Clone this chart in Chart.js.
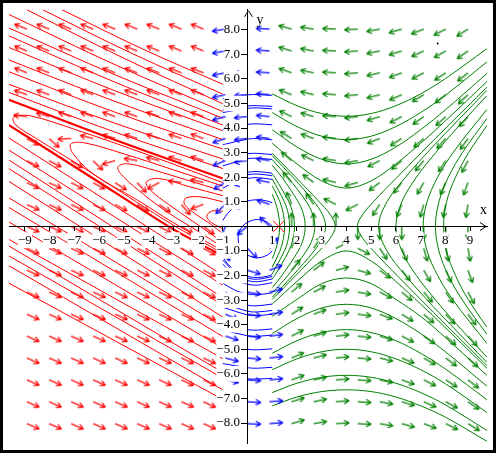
<!DOCTYPE html>
<html>
<head>
<meta charset="utf-8">
<script src="https://cdn.jsdelivr.net/npm/chart.js@4.4.1/dist/chart.umd.min.js"></script>
<style>
html,body{margin:0;padding:0;background:#fff;}
#wrap{width:496px;height:453px;position:relative;}
canvas{display:block;}
</style>
</head>
<body>
<div id="wrap"><canvas id="c" width="496" height="453"></canvas></div>
<script>
// ---------------- data ----------------
const xTicks = [-9,-8,-7,-6,-5,-4,-3,-2,-1,1,2,3,4,5,6,7,8,9];
const yTicks = [-8,-7,-6,-5,-4,-3,-2,-1,1,2,3,4,5,6,7,8];

// direction-field grid (arrow tails)
const gridX = [-8.92,-8.02,-7.13,-6.24,-5.35,-4.46,-3.57,-2.67,-1.78,-0.89,0,0.89,1.78,2.67,3.57,4.46,5.35,6.24,7.13,8.02,8.92];
const gridY = [8.02,7.13,6.24,5.35,4.46,3.57,2.67,1.78,0.89,0,-0.89,-1.78,-2.67,-3.57,-4.46,-5.35,-6.24,-7.13,-8.02];

// arrow directions, degrees counter-clockwise from +x (rows follow gridY)
const redAngles = [
[158,158,158,158,158,158,158,158,158],
[158,158,158,158,158,158,158,158,158],
[158,158,159,159,159,159,159,159,159],
[160,160,159,159,159,159,159,159,159],
[173,163,161,161,160,160,160,160,160],
[-28,-41,183,166,163,162,161,161,160],
[-26,-27,-31,-44,196,170,165,163,162],
[-25,-25,-27,-28,-33,-47,209,173,167],
[-24,-25,-25,-26,-28,-30,-34,-49,200],
[-24,-24,-25,-25,-26,-27,-28,-31,-36],
[-24,-24,-25,-25,-25,-26,-27,-28,-29],
[-24,-24,-24,-25,-25,-25,-26,-26,-27],
[-24,-24,-24,-24,-25,-25,-25,-26,-26],
[-24,-24,-24,-24,-24,-25,-25,-25,-26],
[-24,-24,-24,-24,-24,-24,-25,-25,-25],
[-24,-24,-24,-24,-24,-24,-24,-25,-25],
[-24,-24,-24,-24,-24,-24,-24,-25,-25],
[-24,-24,-24,-24,-24,-24,-24,-24,-25],
[-24,-24,-24,-24,-24,-24,-24,-24,-24]
];
const blueAngles = [
[189,183,177],[190,183,176],[191,183,176],[192,184,175],[195,185,174],
[198,186,173],[202,187,171],[210,190,168],[223,196,161],[249,219,136],
[-73,-46,52],[-45,-17,21],[-31,-10,13],[-23,-7,9],[-18,-6,7],[-15,-5,6],[-13,-4,5],[-11,-4,4],[-10,-3,4]
];
const greenAngles = [
[164,171,177,183,190,196,201,207,212],
[163,169,177,184,191,197,204,209,215],
[160,168,176,184,192,200,207,213,218],
[158,166,175,185,194,203,210,217,223],
[154,163,175,186,197,207,215,222,228],
[148,160,173,187,201,212,221,228,234],
[140,154,171,190,207,220,230,236,242],
[129,143,166,195,217,232,240,246,250],
[112,124,154,207,237,248,254,258,260],
[90,90,90,-90,-90,-90,-90,-90,-90],
[68,56,26,-27,-57,-68,-74,-78,-80],
[51,37,14,-15,-37,-52,-60,-66,-70],
[40,27,9,-10,-27,-40,-50,-56,-62],
[32,20,7,-7,-21,-32,-41,-48,-54],
[27,17,6,-6,-17,-27,-35,-42,-48],
[23,14,5,-5,-14,-23,-30,-37,-43],
[20,12,4,-4,-12,-20,-27,-33,-38],
[17,11,4,-4,-11,-17,-24,-29,-35],
[16,9,3,-3,-10,-16,-21,-27,-32]
];

// red solution curves (x <= -1)
const redUpperCurves = [
[[-7.5,8.81],[-4.25,7.22],[-1,5.78]],
[[-8.28,8.81],[-4.64,7.02],[-1,5.38]],
[[-8.92,8.81],[-4.96,6.82],[-1,4.99]],
[[-9.65,8.62],[-5.32,6.56],[-1,4.67]],
[[-9.65,8.07],[-5.32,6.15],[-1,4.40]],
[[-9.65,7.75],[-5.32,5.85],[-1,4.12]],
[[-9.65,7.28],[-5.32,5.50],[-1,3.89]],
[[-9.65,6.77],[-5.32,5.07],[-1,3.53]],
[[-9.65,6.29],[-5.32,4.63],[-1,3.14]],
[[-9.65,5.78],[-5.32,4.18],[-1,2.74]],
[[-9.65,5.45],[-5.32,3.82],[-1,2.35]]
];
const redSeparatrices = [
[[-9.65,5.15],[-5.32,3.50],[-1,1.95]],
[[-9.65,4.12],[-6.4,2.05],[-3.2,0],[-2.1,-0.62],[-1,-1.2]]
];
const redLowerCurves = [
[[-9.65,3.6],[-1,-1.99]],
[[-9.65,3.1],[-1,-2.39]],
[[-9.65,2.7],[-1,-2.9]],
[[-9.65,2.35],[-1,-3.21]],
[[-9.65,1.83],[-1,-3.69]],
[[-9.65,1.16],[-1,-4.08]],
[[-9.65,0.77],[-1,-4.48]],
[[-9.65,0.18],[-1,-4.95]],
[[-9.65,-0.53],[-1,-5.38]],
[[-9.65,-0.8],[-1,-5.94]],
[[-9.65,-1.2],[-1,-6.17]],
[[-9.65,-1.6],[-1,-6.65]],
[[-9.65,-2.31],[-1,-7.04]]
];
const redLoops = [
[[-1,1.78],[-4,2.9],[-7,3.95],[-8.8,4.5],[-9.45,4.45],[-9.4,4.15],[-8.5,3.55],[-6.5,2.3],[-4.5,1.0],[-3,0.05],[-1,-1.1]],
[[-1,1.64],[-3,2.3],[-5,2.95],[-6.6,3.4],[-7.15,3.35],[-7.05,2.95],[-6.2,2.1],[-4.5,1.1],[-3,0.15],[-1,-1.0]],
[[-1,1.44],[-2.5,1.9],[-4,2.35],[-4.9,2.55],[-5.25,2.4],[-5.0,2.0],[-4.2,1.3],[-3.2,0.55],[-2,-0.2],[-1,-0.85]],
[[-1,1.25],[-2.3,1.6],[-3.6,1.95],[-4.1,1.8],[-3.9,1.45],[-3.2,0.9],[-2.2,0.2],[-1,-0.65]],
[[-1,1.0],[-1.9,1.2],[-2.5,1.15],[-2.55,0.9],[-2.1,0.5],[-1.5,0.1],[-1,-0.3]],
[[-1,0.62],[-1.45,0.62],[-1.65,0.4],[-1.45,0.15],[-1,-0.1]]
];

// blue solution curves (-1 <= x <= 1), arcs turning about (0.4, -0.5)
const blueCurves = [
[[-1,5.19],[0,5.35],[0.4,5.36],[1,5.33]],
[[-1,4.73],[0,4.9],[0.4,4.91],[1,4.88]],
[[-1,4.63],[0,4.8],[0.4,4.82],[1,4.78]],
[[-1,3.95],[0,4.15],[0.4,4.17],[1,4.13]],
[[-1,3.32],[0,3.55],[0.4,3.57],[1,3.52]],
[[-1,2.68],[0,2.95],[0.4,2.97],[1,2.92]],
[[-1,2.46],[0,2.75],[0.4,2.77],[1,2.72]],
[[-1,1.84],[-0.5,2.08],[0,2.2],[0.4,2.23],[1,2.16]],
[[-1,1.73],[-0.5,1.97],[0,2.1],[0.4,2.13],[1,2.06]],
[[-1,1.55],[-0.5,1.81],[0,1.95],[0.4,1.98],[1,1.91]],
[[-1,0.24],[-0.8,0.53],[-0.5,0.8],[0,1.03],[0.4,1.08],[0.8,1.03],[1,0.96]],
[[-1,-1.24],[-0.8,-1.53],[-0.5,-1.8],[0,-2.03],[0.4,-2.08],[0.8,-2.03],[1,-1.96]],
[[1,0.0],[0.8,0.17],[0.4,0.28],[0,0.17],[-0.2,0.0],[-0.33,-0.22],[-0.38,-0.5],[-0.33,-0.78],[-0.2,-1.0],[0,-1.17],[0.4,-1.28],[0.8,-1.17],[1,-1.0]],
[[-1,-1.37],[-0.5,-1.88],[0,-2.1],[0.4,-2.15],[1,-2.04]],
[[-1,-1.54],[-0.5,-2.0],[0,-2.2],[0.4,-2.25],[1,-2.14]],
[[-1,-1.77],[-0.5,-2.16],[0,-2.35],[0.4,-2.39],[1,-2.29]],
[[-1,-2.31],[-0.5,-2.6],[0,-2.75],[0.4,-2.78],[1,-2.7]],
[[-1,-2.84],[0,-3.2],[0.4,-3.23],[1,-3.16]],
[[-1,-3.13],[0,-3.45],[0.4,-3.48],[1,-3.42]],
[[-1,-3.29],[0,-3.6],[0.4,-3.63],[1,-3.57]],
[[-1,-3.95],[0,-4.2],[0.4,-4.22],[1,-4.17]],
[[-1,-4.21],[0,-4.45],[0.4,-4.47],[1,-4.42]],
[[-1,-4.8],[0,-5.0],[0.4,-5.02],[1,-4.98]],
[[-1,-5.58],[0,-5.75],[0.4,-5.77],[1,-5.73]],
[[-1,-6.04],[0,-6.2],[0.4,-6.21],[1,-6.18]]
];

// green solution curves (x >= 1)
const greenUpperCurves = [
[[1,5.39],[2,4.91],[3,4.59],[4,4.48],[5,4.59],[6,4.91],[7,5.39],[8,6.01],[9.68,7.23]],
[[1,4.63],[2,4.06],[3,3.67],[4,3.53],[5,3.67],[6,4.06],[7,4.63],[8,5.33],[9.68,6.69]],
[[1,3.93],[2,3.23],[3,2.73],[4,2.54],[5,2.73],[6,3.23],[7,3.93],[8,4.74],[9.68,6.22]],
[[1,3.38],[2,2.54],[3,1.85],[4,1.56],[5,1.85],[6,2.54],[7,3.38],[8,4.29],[9.68,5.89]]
];
const greenLowerCurves = [
[[1,-3.16],[2,-2.24],[3,-1.41],[4,-1],[5,-1.41],[6,-2.24],[7,-3.16],[8,-4.12],[9.68,-5.77]],
[[1,-3.66],[2,-2.97],[3,-2.33],[4,-2.1],[5,-2.33],[6,-2.97],[7,-3.66],[8,-4.52],[9.68,-6.06]],
[[1,-4.36],[2,-3.75],[3,-3.32],[4,-3.17],[5,-3.32],[6,-3.75],[7,-4.36],[8,-5.1],[9.68,-6.5]],
[[1,-5.16],[2,-4.65],[3,-4.32],[4,-4.2],[5,-4.32],[6,-4.65],[7,-5.16],[8,-5.8],[9.68,-7.05]],
[[1,-5.83],[2,-5.39],[3,-5.1],[4,-5],[5,-5.1],[6,-5.39],[7,-5.83],[8,-6.4],[9.68,-7.57]],
[[1,-6.76],[2,-6.38],[3,-6.14],[4,-6.06],[5,-6.14],[6,-6.38],[7,-6.76],[8,-7.26],[9.68,-8.3]],
[[1,-7.3],[2,-6.94],[3,-6.72],[4,-6.65],[5,-6.72],[6,-6.94],[7,-7.3],[8,-7.76],[9.68,-8.74]]
];
const greenLeftCurves = [
[[1,1.31],[1.12,1],[1.25,0.5],[1.3,0],[1.25,-0.5],[1.12,-1],[1,-1.31]],
[[1,1.66],[1.31,1],[1.45,0.5],[1.5,0],[1.45,-0.5],[1.31,-1],[1,-1.66]],
[[1,1.93],[1.49,1],[1.65,0.5],[1.7,0],[1.65,-0.5],[1.49,-1],[1,-1.93]],
[[1,2.14],[1.1,2],[1.67,1],[1.84,0.5],[1.9,0],[1.84,-0.5],[1.67,-1],[1.1,-2],[1,-2.14]],
[[1,2.49],[1.39,2],[2.05,1],[2.26,0.5],[2.33,0],[2.26,-0.5],[2.05,-1],[1.39,-2],[1,-2.49]],
[[1,2.71],[1.63,2],[2.38,1],[2.63,0.5],[2.72,0],[2.63,-0.5],[2.38,-1],[1.63,-2],[1,-2.71]],
[[1,2.88],[1.83,2],[2.69,1],[3.02,0.5],[3.16,0],[3.02,-0.5],[2.69,-1],[1.83,-2],[1,-2.88]],
[[1,2.97],[1.95,2],[2.9,1],[3.33,0.5],[3.55,0],[3.33,-0.5],[2.9,-1],[1.95,-2],[1,-2.97]]
];
const greenRightCurves = [
[[9.68,5.66],[8.02,4],[7.03,3],[6.05,2],[5.09,1],[4.67,0.5],[4.44,0],[4.67,-0.5],[5.09,-1],[6.05,-2],[7.03,-3],[8.02,-4],[9.68,-5.66]],
[[9.68,5.53],[8.21,4],[7.27,3],[6.39,2],[5.64,1],[5.3,0],[5.64,-1],[6.39,-2],[7.27,-3],[8.21,-4],[9.68,-5.53]],
[[9.68,5.32],[8.47,4],[7.61,3],[6.83,2],[6.24,1],[6.0,0],[6.24,-1],[6.83,-2],[7.61,-3],[8.47,-4],[9.68,-5.32]],
[[9.68,4.76],[8.31,3],[7.69,2],[7.26,1],[7.1,0],[7.26,-1],[7.69,-2],[8.31,-3],[9.68,-4.76]],
[[9.68,4.39],[8.69,3],[8.12,2],[7.74,1],[7.6,0],[7.74,-1],[8.12,-2],[8.69,-3],[9.68,-4.39]],
[[9.68,4.1],[8.94,3],[8.41,2],[8.05,1],[7.93,0],[8.05,-1],[8.41,-2],[8.94,-3],[9.68,-4.1]]
];
const markerX = [[1.26,0]];
const markerDot = [[7.69,7.44]];

// ---------------- rendering ----------------
const RED = '#ff0000', BLUE = '#0000ff', GREEN = '#008000';
Chart.defaults.font.family = "'Liberation Serif','Times New Roman',serif";

function arrowImage(color){
  const c = document.createElement('canvas');
  c.width = 34; c.height = 34;
  const g = c.getContext('2d');
  g.strokeStyle = color; g.lineWidth = 1.25;
  g.beginPath();
  g.moveTo(17,17); g.lineTo(30.5,17);
  g.moveTo(30.5,17); g.lineTo(25.3,14.3);
  g.moveTo(30.5,17); g.lineTo(25.3,19.7);
  g.stroke();
  return c;
}
function arrowSet(cols, angles, color){
  const data = [], rot = [];
  gridY.forEach((y,j)=>cols.forEach((x,i)=>{
    const a = angles[j][i];
    if (a === null) return;
    data.push({x:x, y:y}); rot.push(-a);
  }));
  return {data, pointStyle: arrowImage(color), pointRotation: rot, pointRadius: 6, showLine:false, order: 1};
}
function curveSets(list, color, width){
  return list.map(pts => ({
    data: pts.map(p => ({x:p[0], y:p[1]})),
    showLine: true, borderColor: color, borderWidth: width || 1,
    pointRadius: 0, tension: 0.35, fill: false, order: 2
  }));
}
const datasets = [].concat(
  curveSets(redUpperCurves, RED),
  curveSets(redSeparatrices, RED, 2.2),
  curveSets(redLowerCurves, RED),
  curveSets(redLoops, RED),
  curveSets(blueCurves, BLUE),
  curveSets(greenUpperCurves, GREEN),
  curveSets(greenLowerCurves, GREEN),
  curveSets(greenLeftCurves, GREEN),
  curveSets(greenRightCurves, GREEN),
  [arrowSet(gridX.slice(0,9), redAngles, RED),
   arrowSet(gridX.slice(9,12), blueAngles, BLUE),
   arrowSet(gridX.slice(12), greenAngles, GREEN),
   {data: markerX.map(p=>({x:p[0],y:p[1]})), pointStyle:'crossRot', pointRadius:8, borderColor:RED, borderWidth:1, showLine:false, order:0},
   {data: markerDot.map(p=>({x:p[0],y:p[1]})), pointStyle:'circle', pointRadius:1, backgroundColor:'#000', borderColor:'#000', borderWidth:0, showLine:false, order:0}]
);

const frame = {
  id: 'frame',
  afterDraw(chart){
    const ctx = chart.ctx, xs = chart.scales.x, ys = chart.scales.y;
    const x0 = Math.round(xs.getPixelForValue(0)) + 0.5, y0 = Math.round(ys.getPixelForValue(0)) + 0.5;
    const a = chart.chartArea;
    ctx.save();
    ctx.strokeStyle = '#000'; ctx.lineWidth = 1;
    ctx.beginPath();
    ctx.moveTo(a.right-7, y0-4); ctx.lineTo(a.right-1, y0); ctx.lineTo(a.right-7, y0+4);
    ctx.moveTo(x0-4, a.top+7); ctx.lineTo(x0, a.top+1); ctx.lineTo(x0+4, a.top+7);
    ctx.stroke();
    ctx.fillStyle = '#000';
    ctx.font = "14px 'Liberation Serif'";
    ctx.textAlign = 'left'; ctx.textBaseline = 'alphabetic';
    ctx.fillText('x', a.right-7, y0-13);
    ctx.fillText('y', x0+8, a.top+14);
    ctx.fillRect(0,0,496,3); ctx.fillRect(0,0,3,453);
    ctx.fillRect(493,0,3,453); ctx.fillRect(0,450,496,3);
    ctx.restore();
  }
};
const fmtX = v => (v < 0 ? '\u2212' : '') + Math.abs(v);
// trailing en + hair space keep the centred-axis labels clear of the tick marks
const fmtY = v => (v < 0 ? '\u2212' : '') + Math.abs(v).toFixed(1) + '\u2002\u200a';

new Chart(document.getElementById('c'), {
  type: 'scatter',
  data: {datasets},
  options: {
    responsive: false, animation: false, devicePixelRatio: 1,
    layout: {padding: {left:3, top:3, right:3, bottom:3}},
    plugins: {legend: {display:false}, tooltip: {enabled:false}},
    scales: {
      x: {
        type: 'linear', min: -9.645, max: 9.684, position: {y: 0},
        afterBuildTicks: ax => { ax.ticks = xTicks.map(v => ({value: v})); },
        grid: {drawOnChartArea:false, drawTicks:true, tickLength:4, color:'#000', z:2},
        border: {display:true, color:'#000', width:1, z:2},
        ticks: {color:'#000', font:{size:13}, padding:2, maxRotation:0, autoSkip:false, callback: fmtX,
                z:1, showLabelBackdrop:true, backdropColor:'#fff', backdropPadding:0}
      },
      y: {
        type: 'linear', min: -8.82, max: 8.81, position: {x: 0},
        afterBuildTicks: ax => { ax.ticks = yTicks.map(v => ({value: v})); },
        grid: {drawOnChartArea:false, drawTicks:true, tickLength:6, color:'#000', z:2},
        border: {display:true, color:'#000', width:1, z:2},
        ticks: {color:'#000', font:{size:13}, padding:2, autoSkip:false, callback: fmtY,
                z:1, showLabelBackdrop:true, backdropColor:'#fff', backdropPadding:0}
      }
    }
  },
  plugins: [frame]
});
</script>
</body>
</html>
